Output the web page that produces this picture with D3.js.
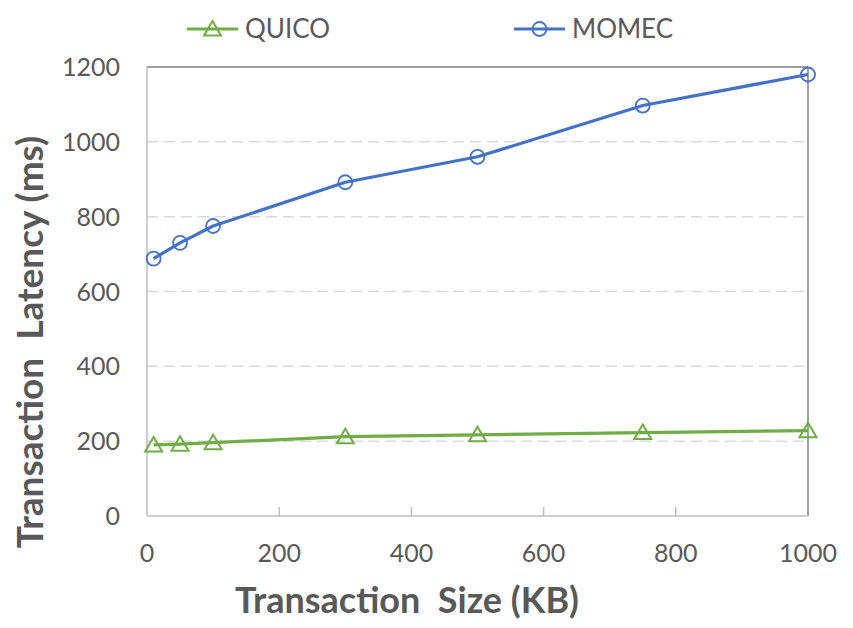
<!DOCTYPE html>
<meta charset="utf-8">
<style>
  body { margin: 0; background: #fff; }
  text { font-family: Lato, "Open Sans", sans-serif; fill: #595959; }
</style>
<body>
<script src="https://d3js.org/d3.v7.min.js"></script>
<script>
// data
var sizes = [10, 50, 100, 300, 500, 750, 1000];
var quico = [190, 192, 196, 212, 217, 223, 228];
var momec = [688, 730, 775, 892, 960, 1097, 1180];
var xTicks = [0, 200, 400, 600, 800, 1000];
var yTicks = [0, 200, 400, 600, 800, 1000, 1200];

var W = 853, H = 628;
var margin = {top: 67, right: 45, bottom: 112, left: 147},
  width = 808 - margin.left,
  height = 516 - margin.top;

var svg = d3.select("body").append("svg")
  .attr("width", W)
  .attr("height", H);

var g = svg.append("g")
  .attr("transform", "translate(" + margin.left + "," + margin.top + ")");

var x = d3.scaleLinear().domain([0, 1000]).range([0, width]);
var y = d3.scaleLinear().domain([0, 1200]).range([height, 0]);

// dashed gridlines
g.selectAll(".grid")
  .data(yTicks.filter(function(d) { return d > 0 && d < 1200; }))
  .enter().append("line")
  .attr("x1", 0).attr("x2", width)
  .attr("y1", function(d) { return y(d); })
  .attr("y2", function(d) { return y(d); })
  .attr("stroke", "#d9d9d9")
  .attr("stroke-width", 1.5)
  .attr("stroke-dasharray", "11,6");

// frame: top and right darker
g.append("line").attr("x1", 0).attr("x2", width).attr("y1", 0).attr("y2", 0)
  .attr("stroke", "#808080").attr("stroke-width", 1.5);
g.append("line").attr("x1", width).attr("x2", width).attr("y1", 0).attr("y2", height)
  .attr("stroke", "#808080").attr("stroke-width", 1.5);
g.append("line").attr("x1", 0).attr("x2", 0).attr("y1", 0).attr("y2", height)
  .attr("stroke", "#bfbfbf").attr("stroke-width", 1.5);
g.append("line").attr("x1", 0).attr("x2", width).attr("y1", height).attr("y2", height)
  .attr("stroke", "#bfbfbf").attr("stroke-width", 1.5);

// x axis ticks (pointing inward)
g.selectAll(".xtick")
  .data(xTicks.slice(1, -1))
  .enter().append("line")
  .attr("x1", function(d) { return x(d); })
  .attr("x2", function(d) { return x(d); })
  .attr("y1", height).attr("y2", height - 9)
  .attr("stroke", "#bfbfbf").attr("stroke-width", 1.5);

g.selectAll(".xlab")
  .data(xTicks)
  .enter().append("text")
  .attr("x", function(d) { return x(d); })
  .attr("y", height + 46)
  .attr("text-anchor", "middle")
  .style("font-size", "25px")
  .text(function(d) { return d; });

g.selectAll(".ylab")
  .data(yTicks)
  .enter().append("text")
  .attr("x", -27)
  .attr("y", function(d) { return y(d); })
  .attr("dy", "0.36em")
  .attr("text-anchor", "end")
  .style("font-size", "25px")
  .text(function(d) { return d; });

// axis titles
svg.append("text")
  .attr("x", 407).attr("y", 613)
  .attr("text-anchor", "middle")
  .style("font-size", "36px").style("font-weight", "bold")
  .style("white-space", "pre")
  .text("Transaction  Size (KB)");

svg.append("text")
  .attr("transform", "translate(43,342) rotate(-90)")
  .attr("text-anchor", "middle")
  .style("font-size", "37px").style("font-weight", "bold")
  .style("white-space", "pre")
  .text("Transaction  Latency (ms)");

var series = [
  {name: "QUICO", values: quico, color: "#70ad47", shape: "tri"},
  {name: "MOMEC", values: momec, color: "#4472c4", shape: "circ"}
];

var line = d3.line()
  .x(function(d) { return x(d[0]); })
  .y(function(d) { return y(d[1]); });

function marker(sel, s) {
  if (s.shape === "circ") {
    sel.append("circle").attr("r", 7)
      .attr("fill", "none").attr("stroke", s.color).attr("stroke-width", 1.8);
  } else {
    sel.append("path").attr("d", "M0,-8L8.5,6.5L-8.5,6.5Z")
      .attr("fill", "none").attr("stroke", s.color).attr("stroke-width", 2);
  }
}

series.forEach(function(s) {
  var pts = d3.zip(sizes, s.values);
  g.append("path")
    .datum(pts)
    .attr("d", line)
    .attr("fill", "none")
    .attr("stroke", s.color)
    .attr("stroke-width", 3.2)
    .attr("stroke-linejoin", "round");
  pts.forEach(function(p) {
    var m = g.append("g").attr("transform", "translate(" + x(p[0]) + "," + y(p[1]) + ")");
    marker(m, s);
  });
});

// legend
var legX = [187, 514];
series.forEach(function(s, i) {
  var lg = svg.append("g").attr("transform", "translate(" + legX[i] + ",29)");
  lg.append("line").attr("x1", 0).attr("x2", 51)
    .attr("stroke", s.color).attr("stroke-width", 3.2);
  var m = lg.append("g").attr("transform", "translate(25.5,0)");
  marker(m, s);
  lg.append("text").attr("x", 58).attr("dy", "0.36em")
    .style("font-size", "26px")
    .text(s.name);
});
</script>
</body>
